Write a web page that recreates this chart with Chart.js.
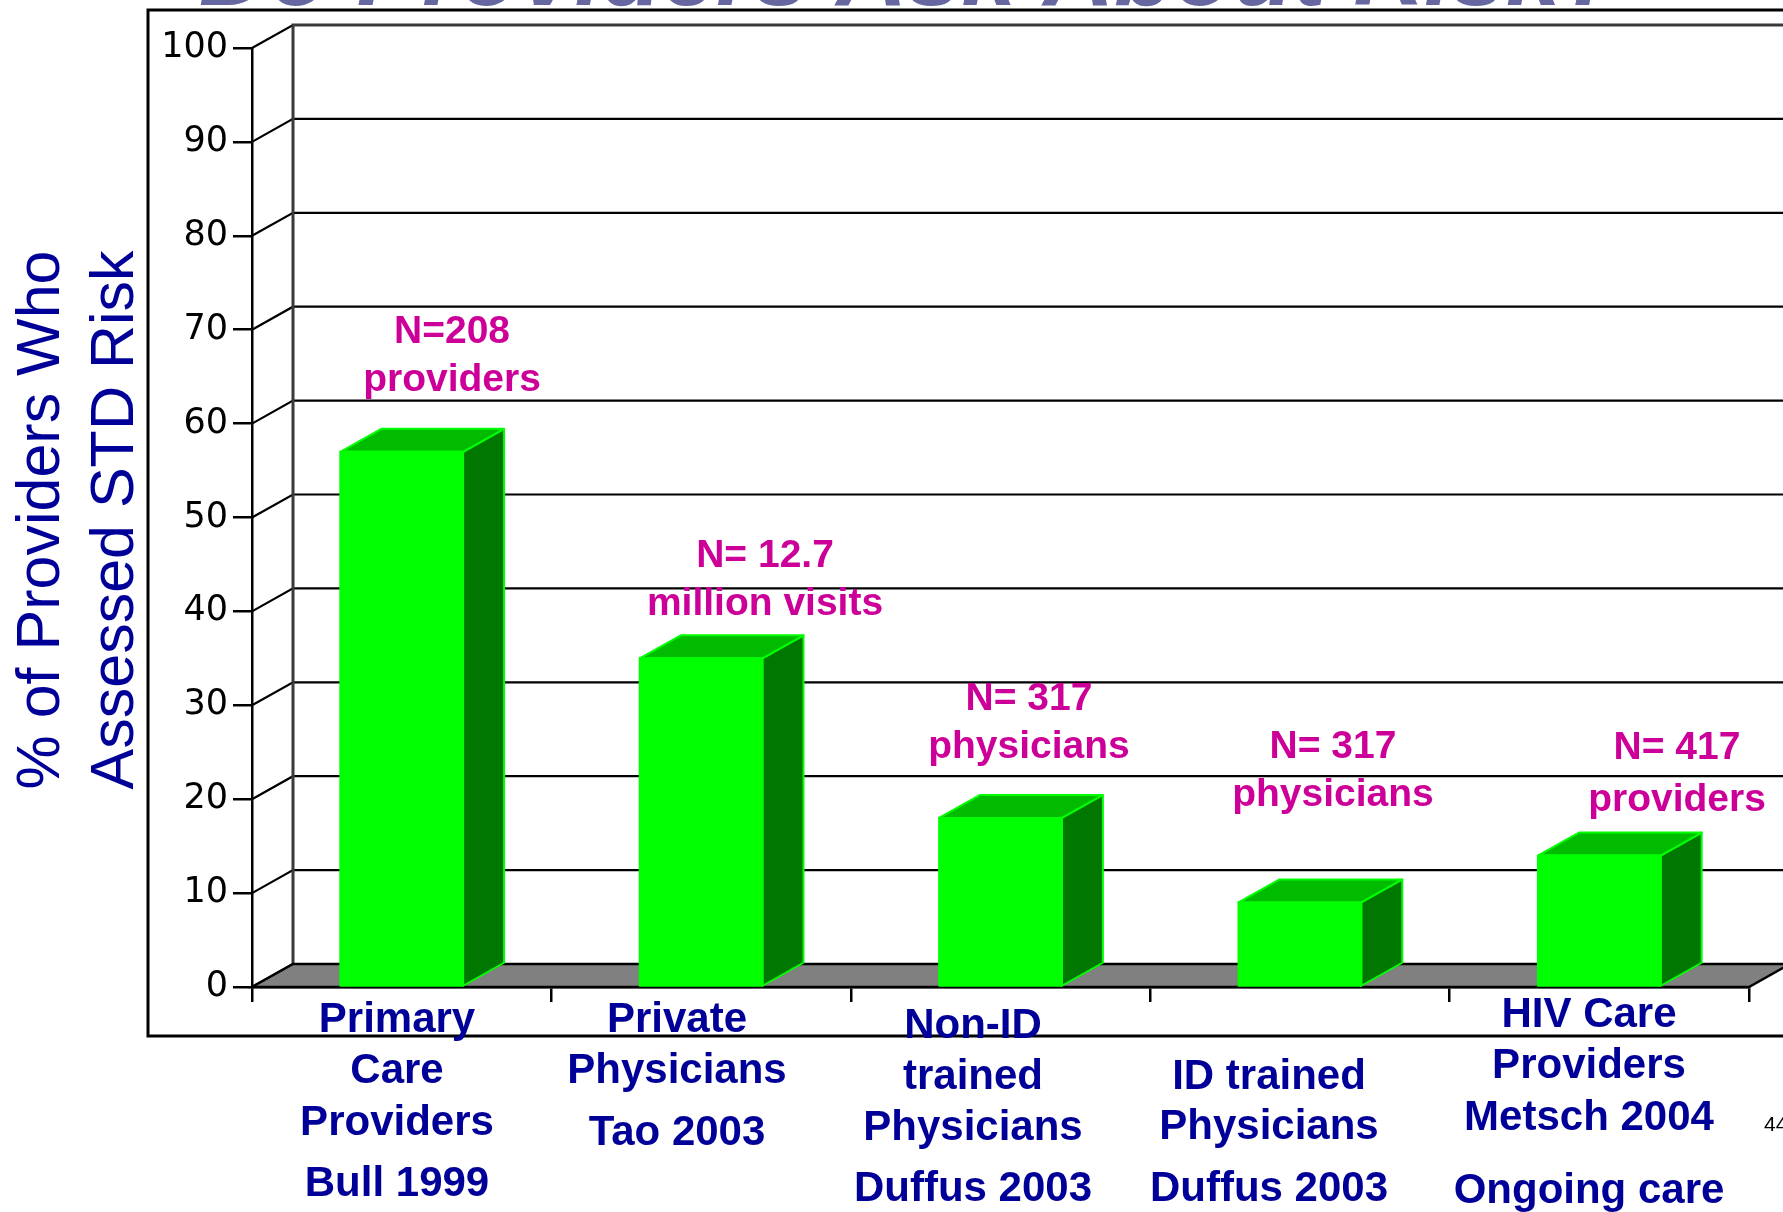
<!DOCTYPE html>
<html>
<head>
<meta charset="utf-8">
<script src="https://cdn.jsdelivr.net/npm/chart.js@4"></script>
<style>
  html, body { margin: 0; padding: 0; background: #fff; }
  #chart { display: block; }
</style>
</head>
<body>
<canvas id="chart" width="1783" height="1212"></canvas>
<script>
const categories = [
  ['Primary', 'Care', 'Providers', 'Bull 1999'],
  ['Private', 'Physicians', 'Tao 2003'],
  ['Non-ID', 'trained', 'Physicians', 'Duffus 2003'],
  ['ID trained', 'Physicians', 'Duffus 2003'],
  ['HIV Care', 'Providers', 'Metsch 2004', 'Ongoing care']
];
const percentAssessed = [57, 35, 18, 9, 14];
const sampleNotes = [
  ['N=208', 'providers'],
  ['N= 12.7', 'million visits'],
  ['N= 317', 'physicians'],
  ['N= 317', 'physicians'],
  ['N= 417', 'providers']
];
const yTicks = [0, 10, 20, 30, 40, 50, 60, 70, 80, 90, 100];
const titleText = 'Do Providers Ask About Risk?';
const yTitle = ['% of Providers Who', 'Assessed STD Risk'];
const slideNo = '44';

// layout (pixels)
const DX = 41, DY = -23;
const labelX = [397, 677, 973, 1269, 1589];
const labelY = [[1020, 1071, 1123, 1184], [1020, 1071, 1133], [1026, 1077, 1128, 1189], [1077, 1127, 1189], [1015, 1066, 1118, 1191]];
const noteX = [452, 765, 1029, 1333, 1677];
const noteY = [332, 556, 699, 747, 748];
const noteGap = [48, 48, 48, 48, 52];

const NAVY = '#000099';
const MAGENTA = '#cc0099';

const box3d = {
  id: 'box3d',
  beforeDraw(chart) {
    const ctx = chart.ctx;
    ctx.save();
    ctx.fillStyle = '#fff';
    ctx.fillRect(0, 0, chart.width, chart.height);
    // title, mostly off the top edge
    ctx.fillStyle = '#6666a0';
    ctx.font = 'italic bold 98px "Liberation Sans", Arial, sans-serif';
    ctx.textAlign = 'left';
    ctx.textBaseline = 'alphabetic';
    ctx.fillText(titleText, 199, 5);
    // outer plot frame
    ctx.strokeStyle = '#000';
    ctx.lineWidth = 3;
    ctx.strokeRect(148, 10, 1700, 1026);
    ctx.restore();
  },
  beforeDatasetsDraw(chart) {
    const ctx = chart.ctx;
    const y = chart.scales.y;
    const L = chart.chartArea.left, R = chart.chartArea.right;
    ctx.save();
    // back wall gridlines + side wall diagonals
    ctx.strokeStyle = '#000';
    ctx.lineWidth = 2.2;
    yTicks.forEach(v => {
      const py = y.getPixelForValue(v);
      ctx.beginPath();
      ctx.moveTo(L, py);
      ctx.lineTo(L + DX, py + DY);
      if (v > 0) ctx.lineTo(R + DX, py + DY);
      ctx.stroke();
    });
    // back wall top + left edge
    ctx.strokeStyle = '#3a3a3a';
    ctx.lineWidth = 3;
    ctx.beginPath();
    ctx.moveTo(L + DX, y.getPixelForValue(0) + DY);
    ctx.lineTo(L + DX, y.getPixelForValue(100) + DY);
    ctx.lineTo(R + DX, y.getPixelForValue(100) + DY);
    ctx.stroke();
    // floor
    const b = y.getPixelForValue(0);
    ctx.beginPath();
    ctx.moveTo(L, b);
    ctx.lineTo(R, b);
    ctx.lineTo(R + DX, b + DY);
    ctx.lineTo(L + DX, b + DY);
    ctx.closePath();
    ctx.fillStyle = '#808080';
    ctx.fill();
    ctx.strokeStyle = '#000';
    ctx.lineWidth = 2.5;
    ctx.stroke();
    ctx.restore();
  },
  afterDatasetsDraw(chart) {
    const ctx = chart.ctx;
    const meta = chart.getDatasetMeta(0);
    ctx.save();
    ctx.strokeStyle = '#00ff00';
    ctx.lineWidth = 2;
    ctx.lineJoin = 'round';
    meta.data.forEach(bar => {
      const p = bar.getProps(['x', 'y', 'base', 'width'], true);
      const l = p.x - p.width / 2, r = p.x + p.width / 2;
      // side face
      ctx.beginPath();
      ctx.moveTo(r, p.y);
      ctx.lineTo(r + DX, p.y + DY);
      ctx.lineTo(r + DX, p.base + DY);
      ctx.lineTo(r, p.base);
      ctx.closePath();
      ctx.fillStyle = '#007700';
      ctx.fill();
      ctx.stroke();
      // top face
      ctx.beginPath();
      ctx.moveTo(l, p.y);
      ctx.lineTo(l + DX, p.y + DY);
      ctx.lineTo(r + DX, p.y + DY);
      ctx.lineTo(r, p.y);
      ctx.closePath();
      ctx.fillStyle = '#00bb00';
      ctx.fill();
      ctx.stroke();
      // front outline
      ctx.strokeRect(l, p.y, p.width, p.base - p.y);
    });
    ctx.restore();
  },
  afterDraw(chart) {
    const ctx = chart.ctx;
    ctx.save();
    ctx.textAlign = 'center';
    ctx.textBaseline = 'middle';
    // category labels
    ctx.fillStyle = NAVY;
    ctx.font = 'bold 42px "Liberation Sans", Arial, sans-serif';
    categories.forEach((lines, i) => {
      lines.forEach((t, j) => ctx.fillText(t, labelX[i], labelY[i][j]));
    });
    // sample size notes
    ctx.fillStyle = MAGENTA;
    ctx.font = 'bold 39px "Liberation Sans", Arial, sans-serif';
    sampleNotes.forEach((lines, i) => {
      lines.forEach((t, j) => ctx.fillText(t, noteX[i], noteY[i] + j * noteGap[i]));
    });
    // y axis title
    ctx.fillStyle = NAVY;
    ctx.font = '61px "Liberation Sans", Arial, sans-serif';
    ctx.textBaseline = 'alphabetic';
    [59, 133].forEach((bx, i) => {
      ctx.save();
      ctx.translate(bx, 520);
      ctx.rotate(-Math.PI / 2);
      ctx.fillText(yTitle[i], 0, 0);
      ctx.restore();
    });
    // slide number
    ctx.fillStyle = '#000';
    ctx.font = '21px "Liberation Sans", Arial, sans-serif';
    ctx.textAlign = 'left';
    ctx.textBaseline = 'middle';
    ctx.fillText(slideNo, 1764, 1125);
    ctx.restore();
  }
};

new Chart(document.getElementById('chart'), {
  type: 'bar',
  data: {
    labels: categories.map(c => c.join(' ')),
    datasets: [{
      data: percentAssessed,
      backgroundColor: '#00ff00',
      borderWidth: 0,
      barPercentage: 0.41,
      categoryPercentage: 1
    }]
  },
  options: {
    responsive: false,
    animation: false,
    devicePixelRatio: 1,
    layout: { padding: { left: 0, top: 48, right: 34, bottom: 0 } },
    plugins: { legend: { display: false }, tooltip: { enabled: false } },
    scales: {
      x: {
        ticks: { display: false },
        grid: { offset: true, drawOnChartArea: false, drawTicks: true, tickLength: 15, color: '#000', lineWidth: 2.5 },
        border: { display: true, color: '#000', width: 2.5 },
        afterFit: s => { s.height = 225; }
      },
      y: {
        min: 0,
        max: 100,
        afterBuildTicks: s => { s.ticks = yTicks.map(v => ({ value: v })); },
        ticks: { color: '#000', padding: 5, font: { family: 'DejaVu Sans', size: 35 } },
        grid: { drawOnChartArea: false, drawTicks: true, tickLength: 19, color: '#000', lineWidth: 2.5 },
        border: { display: true, color: '#000', width: 2.5 },
        afterFit: s => { s.width = 252; }
      }
    }
  },
  plugins: [box3d]
});
</script>
</body>
</html>
